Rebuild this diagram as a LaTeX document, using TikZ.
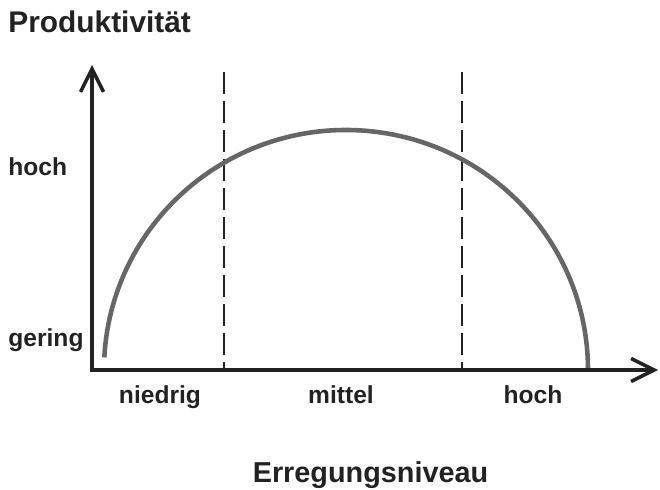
\documentclass[tikz,border=0pt]{standalone}
\usepackage{fontspec}
\setmainfont{Liberation Sans}
\usetikzlibrary{positioning, arrows.meta}

\definecolor{inkdark}{HTML}{222222}
\definecolor{curvegray}{HTML}{666666}

\begin{document}
\begin{tikzpicture}[
    label/.style={
        font=\bfseries\fontsize{14}{16}\selectfont,
        text=inkdark,
        inner sep=0pt
    },
    axis/.style={
        draw=inkdark,
        line width=2.3pt,
        -{Straight Barb[length=0.46cm, width=0.46cm, line width=2pt]}
    },
    divider/.style={
        draw=inkdark,
        line width=0.8pt,
        dash pattern=on 0.44cm off 0.14cm
    },
    curve/.style={
        draw=curvegray,
        line width=2.6pt
    }
]
\useasboundingbox (0,0) rectangle (13.2,9.78);

\coordinate (origin) at (1.84,2.38);
\coordinate (ytip) at (1.84,8.48);
\coordinate (xtip) at (13.16,2.38);
\coordinate (lowtop) at (4.48,8.34);
\coordinate (lowbot) at (4.48,2.42);
\coordinate (hightop) at (9.24,8.34);
\coordinate (highbot) at (9.24,2.42);
\coordinate (peakc) at (6.92,2.38);

\node[label, anchor=base west, font=\bfseries\fontsize{17}{20}\selectfont]
    (title) at (0.16,9.12) {Produktivität};

\node[label, anchor=base west] (yhigh) at (0.16,6.28) {hoch};
\node[label, anchor=base west] (ylow) at (0.16,2.86) {gering};

\node[label, anchor=base] (xlow) at (3.2,1.72) {niedrig};
\node[label, anchor=base] (xmid) at (6.82,1.72) {mittel};
\node[label, anchor=base] (xhigh) at (10.66,1.72) {hoch};

\node[label, anchor=base, font=\bfseries\fontsize{16.4}{19}\selectfont]
    (xtitle) at (7.41,0.14) {Erregungsniveau};

\draw[divider] (lowtop) -- (lowbot);
\draw[divider] (hightop) -- (highbot);

\draw[curve] ([shift={(177:4.84cm and 4.8cm)}]peakc)
    arc[start angle=177, end angle=0, x radius=4.84cm, y radius=4.8cm];

\draw[axis] ([yshift=-1.1pt]origin) -- (ytip);
\draw[axis] ([xshift=-1.1pt]origin) -- (xtip);

\end{tikzpicture}
\end{document}
